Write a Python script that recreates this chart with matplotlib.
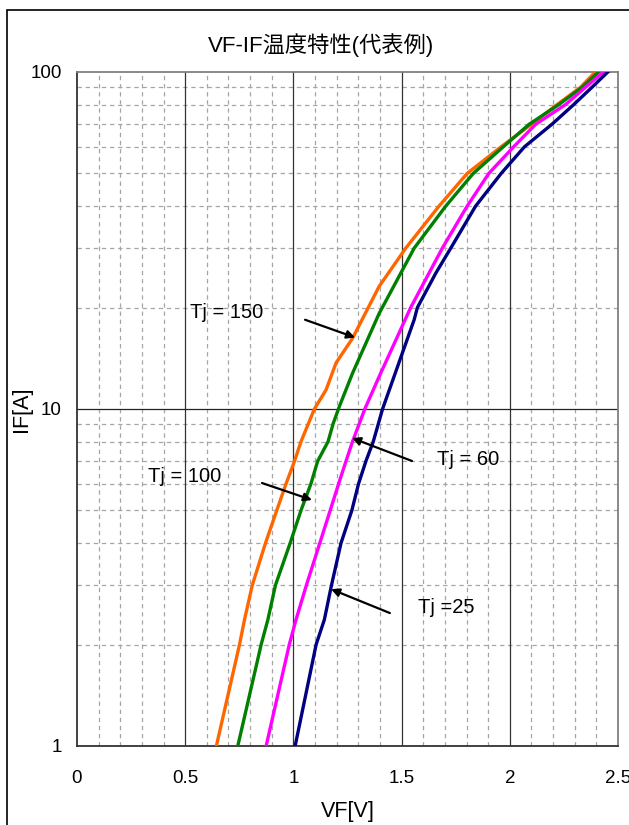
import numpy as np
import matplotlib
matplotlib.use("Agg")
import matplotlib.pyplot as plt
from matplotlib.patches import Rectangle
from matplotlib.ticker import FixedLocator, NullFormatter

plt.rcParams['font.family'] = ['Liberation Sans', 'Noto Sans CJK JP', 'DejaVu Sans']

# ---- data ----
i_150 = [1, 2, 2.37, 3, 4, 5, 6, 7, 8, 10, 11.4, 13.7, 16.2, 23.1, 30, 40, 50, 60, 70, 80, 90, 100]
v_150 = [0.644, 0.751, 0.774, 0.810, 0.871, 0.923, 0.966, 1.005, 1.035, 1.097, 1.151, 1.197,
         1.273, 1.396, 1.519, 1.673, 1.803, 1.96, 2.10, 2.218, 2.326, 2.395]

i_100 = [1, 2, 2.37, 3, 4, 5, 6, 7, 8, 9.06, 10.16, 12.76, 15.67, 19.2, 30, 40, 50, 60, 70, 80, 90, 100]
v_100 = [0.743, 0.851, 0.882, 0.917, 0.985, 1.035, 1.081, 1.112, 1.16, 1.184, 1.212, 1.273,
         1.335, 1.396, 1.558, 1.704, 1.831, 1.97, 2.09, 2.226, 2.333, 2.410]

i_60 = [1, 2, 2.37, 3, 4, 5, 6, 7, 8, 10, 12.47, 20, 30, 40, 50, 60, 70, 80, 90, 100]
v_60 = [0.874, 0.981, 1.012, 1.06, 1.122, 1.170, 1.209, 1.243, 1.273, 1.33, 1.396, 1.542,
        1.688, 1.803, 1.903, 2.018, 2.12, 2.257, 2.349, 2.433]

i_25 = [1, 2, 2.37, 3, 4, 5, 6, 7, 8, 10, 18.4, 20, 25.3, 30, 40, 50, 60, 70, 80, 90, 100]
v_25 = [1.008, 1.105, 1.143, 1.176, 1.220, 1.270, 1.301, 1.335, 1.369, 1.412, 1.558, 1.573,
        1.658, 1.727, 1.842, 1.96, 2.068, 2.195, 2.295, 2.379, 2.453]

x_ticks = [0, 0.5, 1, 1.5, 2, 2.5]
x_tick_labels = ['0', '0.5', '1', '1.5', '2', '2.5']
y_ticks = [1, 10, 100]
y_tick_labels = ['1', '10', '100']

title = 'VF-IF温度特性(代表例)'
xlabel = 'VF[V]'
ylabel = 'IF[A]'

# ---- figure ----
fig = plt.figure(figsize=(6.29, 8.25), dpi=100)
W, H = 629, 825
ax = fig.add_axes([77 / W, (H - 746) / H, (618 - 77) / W, (746 - 72) / H])

# outer frame
fig.patches.append(Rectangle((7 / W, -0.2), 1.5, 1 - 9.5 / H + 0.2, transform=fig.transFigure,
                             fill=False, edgecolor='black', linewidth=1.2, zorder=0))

ax.set_xscale('linear')
ax.set_yscale('log')
ax.set_xlim(0, 2.5)
ax.set_ylim(1, 100)

# grids
minor_x = [v / 10 for v in range(1, 25) if v % 5 != 0]
minor_y = [m * d for d in (1, 10) for m in range(2, 10)]
for xv in minor_x:
    ax.axvline(xv, color='#a6a6a6', lw=0.9, ls=(0, (3.5, 3)), zorder=1)
for yv in minor_y:
    ax.axhline(yv, color='#a6a6a6', lw=0.9, ls=(0, (3.5, 3)), zorder=1)
for xv in x_ticks[1:-1]:
    ax.axvline(xv, color='#333333', lw=0.9, zorder=1.5)
ax.axhline(10, color='#222222', lw=0.9, zorder=1.5)

# curves
ax.plot(v_150, i_150, color='#FF6600', lw=2.4, zorder=3, solid_joinstyle='round')
ax.plot(v_100, i_100, color='#008000', lw=2.4, zorder=3, solid_joinstyle='round')
ax.plot(v_60, i_60, color='#FF00FF', lw=2.4, zorder=3, solid_joinstyle='round')
ax.plot(v_25, i_25, color='#000080', lw=2.4, zorder=3, solid_joinstyle='round')

# ticks
ax.xaxis.set_major_locator(FixedLocator(x_ticks))
ax.set_xticklabels(x_tick_labels)
ax.yaxis.set_major_locator(FixedLocator(y_ticks))
ax.yaxis.set_minor_locator(FixedLocator([]))
ax.yaxis.set_minor_formatter(NullFormatter())
ax.set_yticklabels(y_tick_labels)
ax.tick_params(axis='both', which='both', length=0, labelsize=13.5)
ax.tick_params(axis='x', pad=17)
ax.tick_params(axis='y', pad=11)

for s in ['left', 'bottom']:
    ax.spines[s].set_color('#333333')
    ax.spines[s].set_linewidth(1.3)
for s in ['top', 'right']:
    ax.spines[s].set_color('#808080')
    ax.spines[s].set_linewidth(1.3)

ax.set_xlabel(xlabel, fontsize=15.5)
ax.set_ylabel(ylabel, fontsize=15.5)
ax.xaxis.set_label_coords(0.5, (746 - 812) / 674)
ax.xaxis.label.set_va('center')
ax.yaxis.set_label_coords((22 - 77) / 541, 0.5)
ax.yaxis.label.set_va('center')

fig.text(321 / W, 1 - 45 / H, title, fontsize=16, ha='center', va='center')

# annotations
akw = dict(arrowstyle='-|>', color='black', lw=1.6, mutation_scale=12, shrinkA=0, shrinkB=0)
fs = 14.5
ax.text(0.522, 19.3, 'Tj = 150', fontsize=fs, va='center', ha='left')
ax.annotate('', xy=(1.285, 16.3), xytext=(1.054, 18.4), arrowprops=akw, zorder=5)
ax.text(0.328, 6.29, 'Tj = 100', fontsize=fs, va='center', ha='left')
ax.annotate('', xy=(1.086, 5.37), xytext=(0.855, 6.03), arrowprops=akw, zorder=5)
ax.text(1.664, 7.06, 'Tj = 60', fontsize=fs, va='center', ha='left')
ax.annotate('', xy=(1.271, 8.2), xytext=(1.548, 7.01), arrowprops=akw, zorder=5)
ax.text(1.576, 2.58, 'Tj =25', fontsize=fs, va='center', ha='left')
ax.annotate('', xy=(1.174, 2.92), xytext=(1.446, 2.48), arrowprops=akw, zorder=5)

fig.savefig('out.png', dpi=100)
